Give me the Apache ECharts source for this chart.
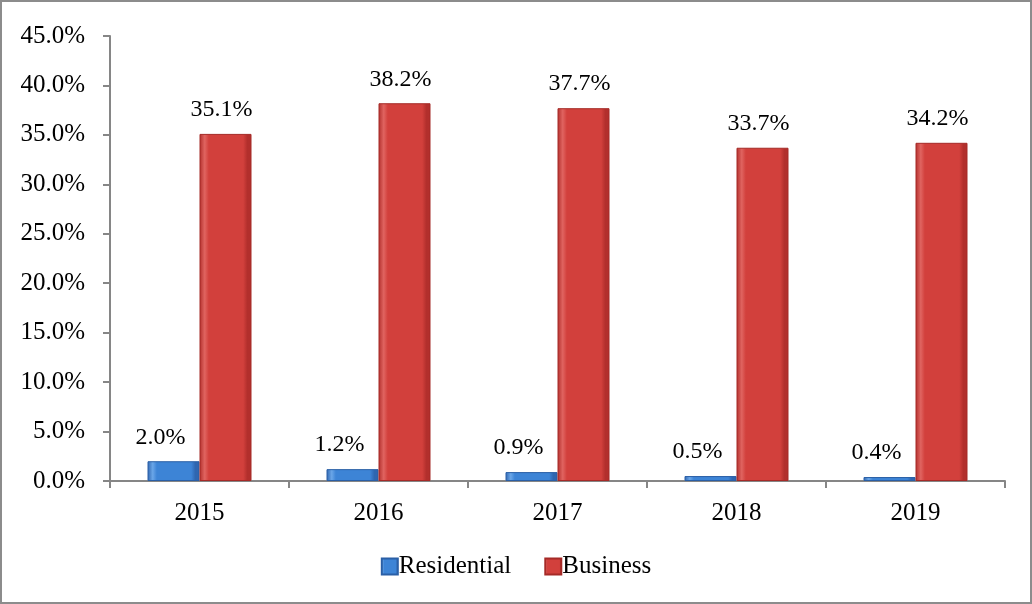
<!DOCTYPE html>
<html>
<head>
<meta charset="utf-8">
<script src="https://cdn.jsdelivr.net/npm/echarts@6/dist/echarts.min.js"></script>
<style>
  html, body { margin: 0; padding: 0; background: #fff; }
  #chart { width: 1028px; height: 600px; border: 2px solid #8c8c8c; }
</style>
</head>
<body>
<div id="chart"></div>
<script>
var years = ['2015', '2016', '2017', '2018', '2019'];
var residential = [2.0, 1.2, 0.9, 0.5, 0.4];
var business = [35.1, 38.2, 37.7, 33.7, 34.2];

var font = '"Liberation Serif", "Times New Roman", serif';

function bevel(edge, mid, light) {
  return new echarts.graphic.LinearGradient(0, 0, 1, 0, [
    { offset: 0, color: edge },
    { offset: 0.1, color: light },
    { offset: 0.18, color: mid },
    { offset: 0.84, color: mid },
    { offset: 0.92, color: edge },
    { offset: 1, color: edge }
  ]);
}

var chart = echarts.init(document.getElementById('chart'));
chart.setOption({
  animation: false,
  textStyle: { fontFamily: font },
  grid: { left: 108, right: 25, top: 34, bottom: 121 },
  legend: {
    bottom: 18,
    left: 'center',
    itemWidth: 16,
    itemHeight: 16,
    itemGap: 33,
    icon: 'rect',
    textStyle: { fontFamily: font, fontSize: 25, color: '#000', padding: [0, 0, 0, -4] },
    data: ['Residential', 'Business']
  },
  xAxis: {
    type: 'category',
    data: years,
    axisLine: { lineStyle: { color: '#868686', width: 2 } },
    axisTick: { show: true, length: 7, lineStyle: { color: '#868686', width: 2 } },
    axisLabel: { fontFamily: font, fontSize: 25, color: '#000', margin: 20 }
  },
  yAxis: {
    type: 'value',
    min: 0,
    max: 45,
    interval: 5,
    splitLine: { show: false },
    axisLine: { show: true, lineStyle: { color: '#868686', width: 2 } },
    axisTick: { show: true, length: 7, lineStyle: { color: '#868686', width: 2 } },
    axisLabel: {
      fontFamily: font, fontSize: 25, color: '#000', margin: 25,
      formatter: function (v) { return v.toFixed(1) + '%'; }
    }
  },
  series: [
    {
      name: 'Residential',
      type: 'bar',
      data: residential,
      barWidth: 52,
      barGap: '0%',
      itemStyle: {
        color: bevel('#2f66b0', '#3d84d6', '#6aa6e8'),
        borderColor: '#2a5fa6',
        borderWidth: 1
      },
      label: {
        show: true, position: 'top', distance: 12, offset: [-13, 0],
        fontFamily: font, fontSize: 24, color: '#000',
        formatter: function (p) { return p.value.toFixed(1) + '%'; }
      }
    },
    {
      name: 'Business',
      type: 'bar',
      data: business,
      barWidth: 52,
      itemStyle: {
        color: bevel('#b22f2c', '#d2403c', '#e06460'),
        borderColor: '#a52a27',
        borderWidth: 1
      },
      label: {
        show: true, position: 'top', distance: 12, offset: [-4, 0],
        fontFamily: font, fontSize: 24, color: '#000',
        formatter: function (p) { return p.value.toFixed(1) + '%'; }
      }
    }
  ]
});
</script>
</body>
</html>
